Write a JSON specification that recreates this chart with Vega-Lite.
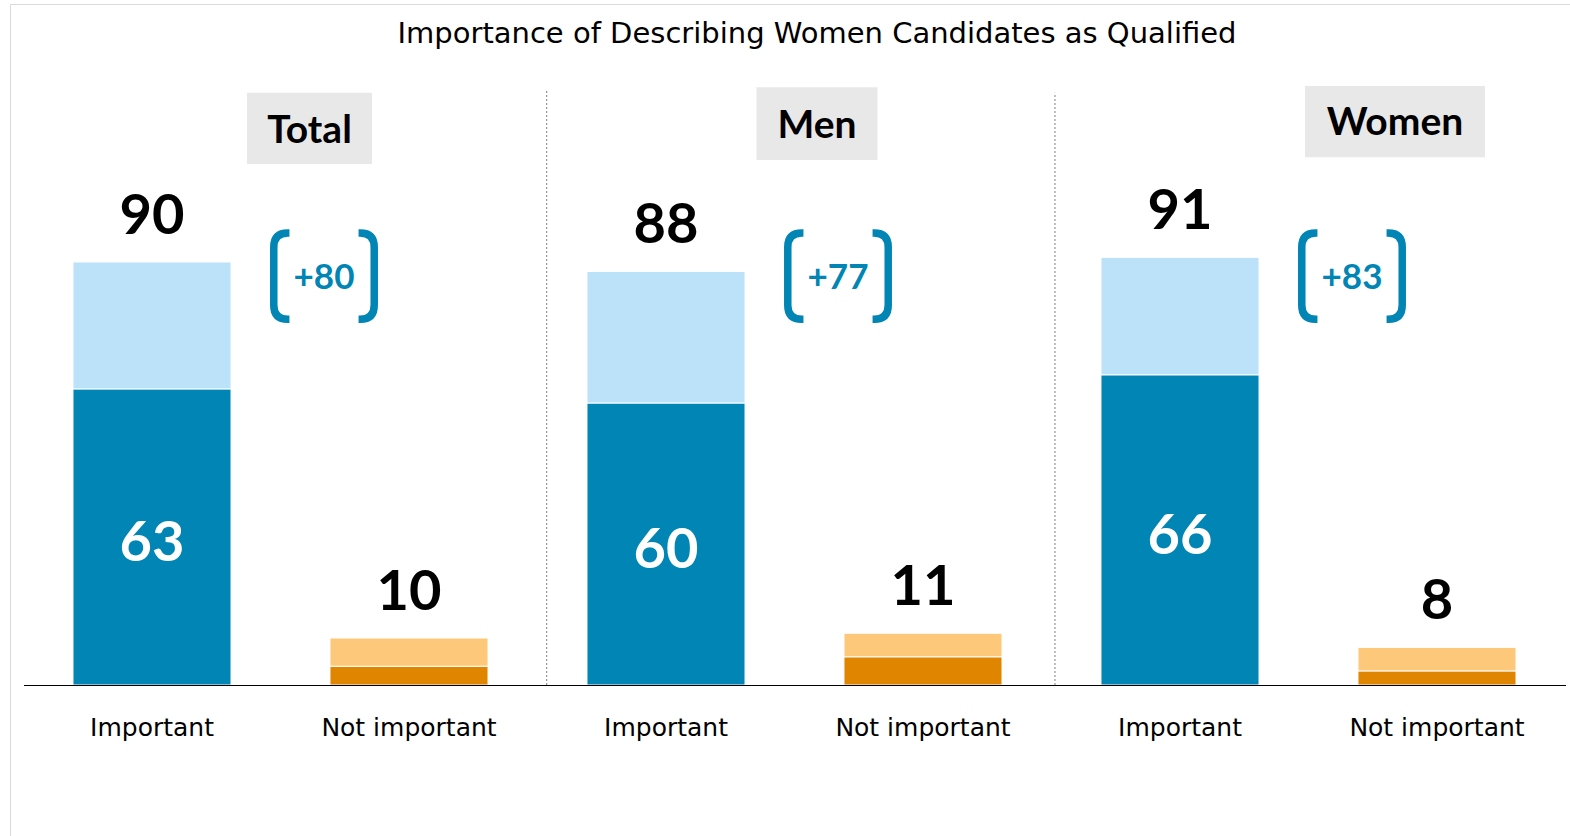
{
  "$schema": "https://vega.github.io/schema/vega-lite/v6.json",
  "autosize": "none",
  "padding": {"left": 10, "top": 4, "right": 0, "bottom": 0},
  "width": 1570,
  "height": 840,
  "background": "white",
  "config": {"view": {"stroke": "#d9d9d9", "strokeWidth": 1}},
  "title": {
    "text": "Importance of Describing Women Candidates as Qualified",
    "font": "DejaVu Sans", "fontSize": 29, "fontWeight": "normal", "color": "#000000",
    "anchor": "middle", "frame": "group", "offset": -28, "baseline": "alphabetic", "dy": 40, "dx": 22
  },
  "datasets": {
    "bars": [
      {"key": "Total|Important", "response": "Important", "level": "Very important", "rank": 1, "value": 63},
      {"key": "Total|Important", "response": "Important", "level": "Somewhat important", "rank": 2, "value": 27},
      {"key": "Total|Not important", "response": "Not important", "level": "Not at all important", "rank": 1, "value": 4},
      {"key": "Total|Not important", "response": "Not important", "level": "Not too important", "rank": 2, "value": 6},
      {"key": "Men|Important", "response": "Important", "level": "Very important", "rank": 1, "value": 60},
      {"key": "Men|Important", "response": "Important", "level": "Somewhat important", "rank": 2, "value": 28},
      {"key": "Men|Not important", "response": "Not important", "level": "Not at all important", "rank": 1, "value": 6},
      {"key": "Men|Not important", "response": "Not important", "level": "Not too important", "rank": 2, "value": 5},
      {"key": "Women|Important", "response": "Important", "level": "Very important", "rank": 1, "value": 66},
      {"key": "Women|Important", "response": "Important", "level": "Somewhat important", "rank": 2, "value": 25},
      {"key": "Women|Not important", "response": "Not important", "level": "Not at all important", "rank": 1, "value": 3},
      {"key": "Women|Not important", "response": "Not important", "level": "Not too important", "rank": 2, "value": 5}
    ],
    "totals": [
      {"key": "Total|Important", "total": 90},
      {"key": "Total|Not important", "total": 10},
      {"key": "Men|Important", "total": 88},
      {"key": "Men|Not important", "total": 11},
      {"key": "Women|Important", "total": 91},
      {"key": "Women|Not important", "total": 8}
    ],
    "headers": [
      {"key": "Total|Not important", "label": "Total"},
      {"key": "Men|Not important", "label": "Men"},
      {"key": "Women|Not important", "label": "Women"}
    ],
    "dividers": [
      {"key": "Men|Important", "name": "Men"},
      {"key": "Women|Important", "name": "Women"}
    ],
    "diffs": [
      {"key": "Total|Important", "diff": "+80"},
      {"key": "Men|Important", "diff": "+77"},
      {"key": "Women|Important", "diff": "+83"}
    ]
  },
  "encoding": {
    "x": {
      "field": "key", "type": "nominal",
      "scale": {
        "domain": ["Total|Important", "Total|Not important", "Men|Important", "Men|Not important", "Women|Important", "Women|Not important"],
        "range": [13.5, 1555.5], "paddingInner": 0.385, "paddingOuter": 0.1925
      },
      "axis": {
        "title": null, "labelExpr": "split(datum.value, '|')[1]",
        "labelFont": "DejaVu Sans", "labelFontSize": 25, "labelColor": "#000000", "labelAngle": 0,
        "ticks": false, "tickSize": 0, "labelPadding": 50, "labelBaseline": "alphabetic",
        "domainColor": "#000000", "domainWidth": 1.2, "offset": -159, "zindex": 1, "grid": false
      }
    }
  },
  "layer": [
    {
      "data": {"name": "bars"},
      "mark": {"type": "bar", "stroke": "white", "strokeWidth": 1},
      "encoding": {
        "y": {"field": "value", "type": "quantitative", "stack": "zero", "scale": {"domain": [0, 100], "range": [681, 211], "nice": false, "zero": true}, "axis": null},
        "color": {"field": "level", "type": "nominal", "legend": null,
          "scale": {"domain": ["Very important", "Somewhat important", "Not at all important", "Not too important"],
                    "range": ["#0085b4", "#bbe2f9", "#df8500", "#fec87a"]}},
        "order": {"field": "rank", "type": "quantitative"}
      }
    },
    {
      "data": {"name": "bars"},
      "transform": [{"filter": "datum.rank == 1 && datum.response == 'Important'"}],
      "mark": {"type": "text", "font": "Lato", "fontWeight": "bold", "fontSize": 56, "fill": "white", "baseline": "alphabetic", "dy": 24},
      "encoding": {
        "y": {"field": "value", "type": "quantitative", "stack": "zero", "bandPosition": 0.5, "scale": {"domain": [0, 100], "range": [681, 211], "nice": false, "zero": true}, "axis": null},
        "text": {"field": "value", "type": "quantitative"}
      }
    },
    {
      "data": {"name": "totals"},
      "mark": {"type": "text", "font": "Lato", "fontWeight": "bold", "fontSize": 56, "fill": "#000000", "baseline": "alphabetic", "dy": -28},
      "encoding": {
        "y": {"field": "total", "type": "quantitative", "scale": {"domain": [0, 100], "range": [681, 211], "nice": false, "zero": true}, "axis": null},
        "text": {"field": "total", "type": "quantitative"}
      }
    },
    {
      "data": {"name": "headers"},
      "transform": [{"filter": "datum.label == 'Total'"}],
      "layer": [
        {
          "mark": {"type": "bar", "fill": "#e8e8e8", "width": 125, "xOffset": -99.5},
          "encoding": {
            "y": {"datum": 126.0, "type": "quantitative", "scale": {"domain": [0, 100], "range": [681, 211], "nice": false, "zero": true}, "axis": null},
            "y2": {"datum": 110.85}
          }
        },
        {
          "mark": {"type": "text", "font": "Lato", "fontWeight": "bold", "fontSize": 39, "fill": "#000000", "baseline": "alphabetic", "dy": 14, "xOffset": -99.5},
          "encoding": {
            "y": {"datum": 118.4, "type": "quantitative", "scale": {"domain": [0, 100], "range": [681, 211], "nice": false, "zero": true}, "axis": null},
            "text": {"field": "label", "type": "nominal"}
          }
        }
      ]
    },
    {
      "data": {"name": "headers"},
      "transform": [{"filter": "datum.label == 'Men'"}],
      "layer": [
        {
          "mark": {"type": "bar", "fill": "#e8e8e8", "width": 121, "xOffset": -106},
          "encoding": {
            "y": {"datum": 127.2, "type": "quantitative", "scale": {"domain": [0, 100], "range": [681, 211], "nice": false, "zero": true}, "axis": null},
            "y2": {"datum": 111.7}
          }
        },
        {
          "mark": {"type": "text", "font": "Lato", "fontWeight": "bold", "fontSize": 39, "fill": "#000000", "baseline": "alphabetic", "dy": 14, "xOffset": -106},
          "encoding": {
            "y": {"datum": 119.4, "type": "quantitative", "scale": {"domain": [0, 100], "range": [681, 211], "nice": false, "zero": true}, "axis": null},
            "text": {"field": "label", "type": "nominal"}
          }
        }
      ]
    },
    {
      "data": {"name": "headers"},
      "transform": [{"filter": "datum.label == 'Women'"}],
      "layer": [
        {
          "mark": {"type": "bar", "fill": "#e8e8e8", "width": 180, "xOffset": -42},
          "encoding": {
            "y": {"datum": 127.45, "type": "quantitative", "scale": {"domain": [0, 100], "range": [681, 211], "nice": false, "zero": true}, "axis": null},
            "y2": {"datum": 112.3}
          }
        },
        {
          "mark": {"type": "text", "font": "Lato", "fontWeight": "bold", "fontSize": 39, "fill": "#000000", "baseline": "alphabetic", "dy": 14, "xOffset": -42},
          "encoding": {
            "y": {"datum": 119.9, "type": "quantitative", "scale": {"domain": [0, 100], "range": [681, 211], "nice": false, "zero": true}, "axis": null},
            "text": {"field": "label", "type": "nominal"}
          }
        }
      ]
    },
    {
      "data": {"name": "dividers"},
      "transform": [{"filter": "datum.name == 'Men'"}],
      "mark": {"type": "rule", "stroke": "#808080", "strokeWidth": 1, "strokeDash": [2, 2], "xOffset": -40.3},
      "encoding": {
        "x": {"field": "key", "type": "nominal", "bandPosition": 0,
          "scale": {
            "domain": ["Total|Important", "Total|Not important", "Men|Important", "Men|Not important", "Women|Important", "Women|Not important"],
            "range": [13.5, 1555.5], "paddingInner": 0.385, "paddingOuter": 0.1925
          }},
        "y": {"datum": 0, "type": "quantitative", "scale": {"domain": [0, 100], "range": [681, 211], "nice": false, "zero": true}, "axis": null},
        "y2": {"datum": 126.6}
      }
    },
    {
      "data": {"name": "dividers"},
      "transform": [{"filter": "datum.name == 'Women'"}],
      "mark": {"type": "rule", "stroke": "#808080", "strokeWidth": 1, "strokeDash": [2, 2], "xOffset": -46},
      "encoding": {
        "x": {"field": "key", "type": "nominal", "bandPosition": 0,
          "scale": {
            "domain": ["Total|Important", "Total|Not important", "Men|Important", "Men|Not important", "Women|Important", "Women|Not important"],
            "range": [13.5, 1555.5], "paddingInner": 0.385, "paddingOuter": 0.1925
          }},
        "y": {"datum": 0, "type": "quantitative", "scale": {"domain": [0, 100], "range": [681, 211], "nice": false, "zero": true}, "axis": null},
        "y2": {"datum": 126.0}
      }
    },
    {
      "data": {"name": "diffs"},
      "mark": {"type": "point", "shape": "M -0.64 -0.8 L -0.67 -0.8 Q -0.93 -0.8 -0.93 -0.54 L -0.93 0.54 Q -0.93 0.8 -0.67 0.8 L -0.64 0.8 M 0.64 -0.8 L 0.67 -0.8 Q 0.93 -0.8 0.93 -0.54 L 0.93 0.54 Q 0.93 0.8 0.67 0.8 L 0.64 0.8",
        "size": 11664, "filled": false, "stroke": "#0085b4", "strokeWidth": 7.5, "opacity": 1, "xOffset": 172},
      "encoding": {
        "y": {"datum": 87, "type": "quantitative", "scale": {"domain": [0, 100], "range": [681, 211], "nice": false, "zero": true}, "axis": null}
      }
    },
    {
      "data": {"name": "diffs"},
      "mark": {"type": "text", "font": "Lato", "fontWeight": "bold", "fontSize": 35, "fill": "#0085b4", "baseline": "alphabetic", "dy": 13, "xOffset": 172},
      "encoding": {
        "y": {"datum": 87, "type": "quantitative", "scale": {"domain": [0, 100], "range": [681, 211], "nice": false, "zero": true}, "axis": null},
        "text": {"field": "diff", "type": "nominal"}
      }
    }
  ]
}
